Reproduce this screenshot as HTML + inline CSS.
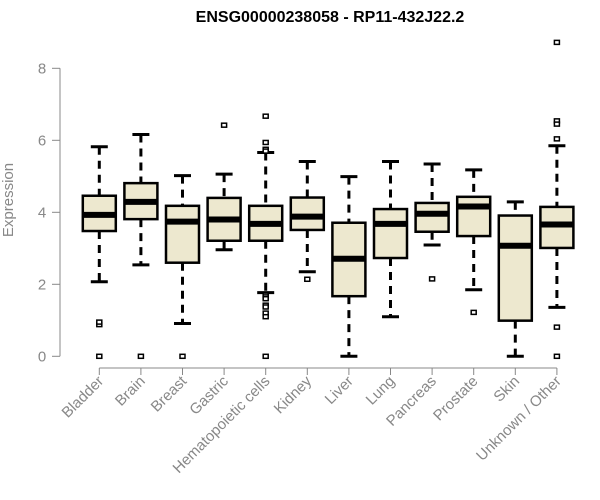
<!DOCTYPE html>
<html><head><meta charset="utf-8"><style>
html,body{margin:0;padding:0;background:#fff;}
svg{display:block;font-family:"Liberation Sans",Arial,sans-serif;}
</style></head><body>
<svg id="chart" width="600" height="500">
<text x="330" y="22" text-anchor="middle" font-weight="bold" font-size="16">ENSG00000238058 - RP11-432J22.2</text>
<text transform="translate(13,200) rotate(-90)" text-anchor="middle" font-size="15" fill="#888">Expression</text>
<g id="axes"></g>
<g id="boxes"></g>
</svg>
<script>
const categories=["Bladder","Brain","Breast","Gastric","Hematopoietic cells","Kidney","Liver","Lung","Pancreas","Prostate","Skin","Unknown / Other"];
const whiskerLow=[2.07,2.54,0.91,2.96,1.77,2.35,0.0,1.1,3.09,1.85,0.0,1.36];
const q1=[3.48,3.81,2.6,3.21,3.21,3.51,1.67,2.73,3.46,3.34,0.99,3.01];
const medians=[3.93,4.29,3.74,3.80,3.68,3.88,2.71,3.68,3.96,4.16,3.07,3.66];
const q3=[4.46,4.81,4.18,4.40,4.18,4.41,3.71,4.09,4.26,4.43,3.91,4.15];
const whiskerHigh=[5.82,6.16,5.02,5.06,5.66,5.41,4.99,5.41,5.34,5.18,4.29,5.85];
const outliers=[[0.88,0.95,0],[0],[0],[6.42],[6.67,5.94,5.75,5.70,1.70,1.65,1.60,1.42,1.37,1.2,1.1,0],[2.14],[],[],[2.15],[1.22],[],[8.72,6.54,6.45,6.04,0.81,0]];
const yTicks=[0,2,4,6,8];
const NS="http://www.w3.org/2000/svg";
const svg=document.getElementById('chart');
const ax=document.getElementById('axes');
const bx=document.getElementById('boxes');
function y(v){return 356.3-36*v;}
function x(i){return 99.3+i*41.6;}
function mk(tag,attrs,parent){const e=document.createElementNS(NS,tag);for(const k in attrs)e.setAttribute(k,attrs[k]);parent.appendChild(e);return e;}
let yl=mk('line',{x1:60,x2:60,y1:y(8),y2:y(0),stroke:'#888'},ax);


yTicks.forEach(t=>{
  mk('line',{x1:52,x2:60,y1:y(t),y2:y(t),stroke:'#888'},ax);
  const tx=mk('text',{x:42,y:y(t)+5,'text-anchor':'middle','font-size':15,fill:'#888'},ax);
  tx.textContent=t;
  
  
});
let xl=mk('line',{x1:x(0),x2:x(categories.length-1),y1:368,y2:368,stroke:'#888'},ax);


categories.forEach((c,i)=>{
  const cx=x(i);
  mk('line',{x1:cx,x2:cx,y1:368,y2:375,stroke:'#888'},ax);
  const tx=mk('text',{transform:`translate(${cx+5},${382}) rotate(-45)`,'text-anchor':'end','font-size':15,fill:'#888'},ax);
  tx.textContent=c;
  
  
  const g=mk('g',{},bx);
  
  
  const hw=16.5, cw=8.5;
  mk('line',{x1:cx,x2:cx,y1:y(whiskerHigh[i]),y2:y(q3[i]),stroke:'#000','stroke-width':3,'stroke-dasharray':'8,6'},g);
  mk('line',{x1:cx,x2:cx,y1:y(q1[i]),y2:y(whiskerLow[i]),stroke:'#000','stroke-width':3,'stroke-dasharray':'8,6'},g);
  mk('line',{x1:cx-cw,x2:cx+cw,y1:y(whiskerHigh[i]),y2:y(whiskerHigh[i]),stroke:'#000','stroke-width':3},g);
  mk('line',{x1:cx-cw,x2:cx+cw,y1:y(whiskerLow[i]),y2:y(whiskerLow[i]),stroke:'#000','stroke-width':3},g);
  mk('rect',{x:cx-hw,y:y(q3[i]),width:hw*2,height:y(q1[i])-y(q3[i]),fill:'#ede8cf',stroke:'#000','stroke-width':2.5},g);
  mk('line',{x1:cx-hw,x2:cx+hw,y1:y(medians[i]),y2:y(medians[i]),stroke:'#000','stroke-width':6},g);
  outliers[i].forEach(v=>{
    const p=mk('rect',{x:cx-2.5,y:y(v)-2,width:5,height:4,fill:'#fff',stroke:'#000','stroke-width':1.5},g);
    
    
  });
});
</script>
</body></html>
